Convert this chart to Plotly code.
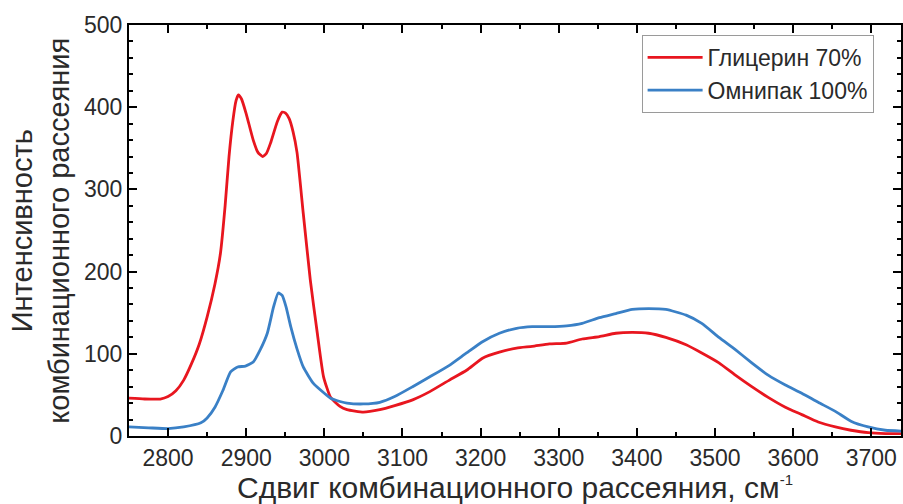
import plotly.graph_objects as go

# ---- data ----
glyc_x = [2750, 2770, 2790, 2800, 2810, 2820, 2830, 2840, 2850, 2860, 2867, 2873, 2878, 2883,
          2887, 2890, 2894, 2900, 2909, 2915, 2921, 2926, 2931, 2940, 2946, 2950, 2955, 2960,
          2965, 2973, 2982, 2991, 2999, 3008, 3020, 3029, 3050, 3071, 3090, 3113, 3135, 3160,
          3182, 3203, 3224, 3246, 3266, 3288, 3310, 3330, 3352, 3373, 3394, 3415, 3437, 3463,
          3483, 3505, 3526, 3547, 3568, 3590, 3611, 3632, 3654, 3674, 3696, 3718, 3738]
glyc_y = [46, 45, 45, 48, 55, 68, 88, 112, 145, 185, 222, 280, 340, 384,
          408, 415, 410, 392, 360, 345, 340, 344, 356, 383, 394, 393, 386, 370,
          345, 271, 190, 125, 72, 47, 36, 32, 29, 32, 37, 44, 54, 68,
          80, 95, 102, 107, 109, 112, 113, 118, 121, 125, 126, 125, 120, 111,
          101, 89, 74, 60, 47, 35, 26, 17, 11, 7, 4, 3, 3]

omni_x = [2750, 2775, 2800, 2820, 2842, 2850, 2860, 2870, 2880, 2889, 2899, 2909, 2918, 2927,
          2935, 2941, 2946, 2951, 2957, 2965, 2973, 2986, 3000, 3008, 3020, 3029, 3050, 3071,
          3090, 3113, 3135, 3160, 3182, 3203, 3224, 3246, 3266, 3288, 3310, 3330, 3352, 3373,
          3394, 3415, 3437, 3463, 3483, 3505, 3526, 3547, 3568, 3590, 3611, 3632, 3654,
          3674, 3696, 3718, 3738]
omni_y = [11, 10, 9, 11, 16, 22, 35, 55, 78, 84, 85, 90, 105, 125,
          157, 174, 171, 157, 133, 106, 84, 64, 52, 46, 42, 40, 39, 41,
          48, 60, 72, 86, 101, 115, 125, 131, 133, 133, 134, 137, 144, 149,
          154, 155, 154, 147, 137, 120, 105, 89, 74, 62, 52, 41, 30,
          18, 11, 7, 6]

series_names = ["Глицерин 70%", "Омнипак 100%"]
x_ticks = [2800, 2900, 3000, 3100, 3200, 3300, 3400, 3500, 3600, 3700]
y_ticks = [0, 100, 200, 300, 400, 500]

FONT = "Liberation Sans, Arial, sans-serif"
RED = "#e8161f"
BLUE = "#3a80c6"
TXT = "#2a2a2a"

fig = go.Figure()
fig.add_trace(go.Scatter(x=glyc_x, y=glyc_y, mode="lines", name=series_names[0],
                         line=dict(color=RED, width=2.8, shape="spline", smoothing=0.5)))
fig.add_trace(go.Scatter(x=omni_x, y=omni_y, mode="lines", name=series_names[1],
                         line=dict(color=BLUE, width=2.8, shape="spline", smoothing=0.5)))

fig.update_layout(
    width=903, height=504,
    margin=dict(l=129, r=0, t=25, b=68),
    paper_bgcolor="white", plot_bgcolor="white",
    font=dict(family=FONT, color=TXT, size=23),
    showlegend=True,
    legend=dict(x=0.664, y=0.976, xanchor="left", yanchor="top",
                bordercolor="#9a9a9a", borderwidth=1, bgcolor="white",
                font=dict(family=FONT, size=23, color=TXT),
                tracegroupgap=0, itemwidth=55),
    xaxis=dict(range=[2750, 3738], tickvals=x_ticks, ticks="inside", ticklen=8, tickwidth=2,
               tickcolor="black", showline=True, linecolor="black", linewidth=2,
               mirror="ticks", showgrid=False, zeroline=False,
               tickfont=dict(family=FONT, size=23, color=TXT),
               minor=dict(dtick=50, ticks="inside", ticklen=4, tickwidth=2, tickcolor="black"),
               title=dict(text="Сдвиг комбинационного рассеяния, см<sup><span style='font-size:15px'>-1</span></sup>",
                          font=dict(family=FONT, size=30, color=TXT), standoff=6)),
    yaxis=dict(range=[0, 500], tickvals=y_ticks, ticks="inside", ticklen=8, tickwidth=2,
               tickcolor="black", showline=True, linecolor="black", linewidth=2,
               mirror="ticks", showgrid=False, zeroline=False,
               tickfont=dict(family=FONT, size=23, color=TXT),
               minor=dict(dtick=20, ticks="inside", ticklen=4, tickwidth=2, tickcolor="black")),
)

fig.add_annotation(text="Интенсивность<br>комбинационного рассеяния",
                   xref="paper", yref="paper", x=-0.115, y=0.5,
                   xanchor="center", yanchor="middle", textangle=-90, showarrow=False,
                   font=dict(family=FONT, size=29, color=TXT))

fig.write_html("out.html")
